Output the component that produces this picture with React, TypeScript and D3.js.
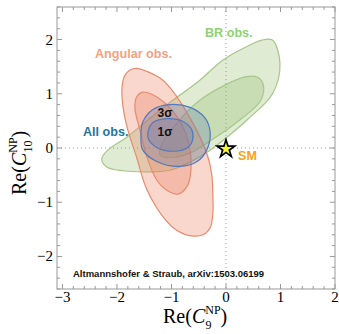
import React from 'react'
import * as d3 from 'd3'

// contours, in (C9, C10) units
const brOuter: [number, number][] = [
  [0.85, 1.99], [0.99, 1.57], [0.86, 1.01], [0.39, 0.52], [0.02, 0.2], [-0.29, -0.04],
  [-0.66, -0.26], [-1.03, -0.41], [-1.4, -0.44], [-1.89, -0.42], [-2.19, -0.35], [-2.28, -0.2],
  [-2.17, -0.04], [-1.82, 0.2], [-1.16, 0.74], [-0.48, 1.25], [-0.06, 1.62], [0.44, 1.9], [0.66, 1.99],
]
const brInner: [number, number][] = [
  [0.57, 1.31], [0.68, 1.18], [0.64, 0.88], [0.26, 0.52], [-0.26, 0.15], [-0.66, -0.09],
  [-1.03, -0.18], [-1.21, -0.13], [-1.18, 0.06], [-0.85, 0.52], [-0.48, 0.88], [-0.02, 1.16], [0.35, 1.31],
]
const angOuter: [number, number][] = [
  [-1.64, 1.47], [-1.21, 1.29], [-1.03, 1.12], [-0.57, 0.39], [-0.33, -0.17], [-0.26, -0.5],
  [-0.24, -0.9], [-0.24, -1.2], [-0.29, -1.47], [-0.42, -1.6], [-0.64, -1.62], [-0.9, -1.52],
  [-1.1, -1.34], [-1.45, -0.77], [-1.64, -0.17], [-1.8, 0.33], [-1.88, 0.7], [-1.91, 1.07],
  [-1.86, 1.33], [-1.76, 1.44],
]
const angInner: [number, number][] = [
  [-1.53, 1.03], [-1.36, 0.99], [-1.12, 0.83], [-0.88, 0.55], [-0.7, 0.15], [-0.64, -0.31],
  [-0.7, -0.68], [-0.88, -0.85], [-1.07, -0.79], [-1.27, -0.59], [-1.45, -0.17], [-1.58, 0.33],
  [-1.67, 0.74], [-1.64, 0.94],
]
const allOuter: [number, number][] = [
  [-1.56, 0.21], [-1.53, 0.47], [-1.34, 0.71], [-1.03, 0.8], [-0.66, 0.75], [-0.39, 0.56],
  [-0.29, 0.29], [-0.35, -0.03], [-0.53, -0.25], [-0.85, -0.34], [-1.27, -0.25], [-1.53, -0.03],
]
const allInner: [number, number][] = [
  [-1.43, 0.3], [-1.34, 0.47], [-1.08, 0.54], [-0.79, 0.49], [-0.63, 0.34], [-0.61, 0.16],
  [-0.7, 0.01], [-0.97, -0.06], [-1.27, 0.01], [-1.42, 0.16],
]

const xTicks = [-3, -2, -1, 0, 1, 2]
const yTicks = [-2, -1, 0, 1, 2]
const smPoint: [number, number] = [0, 0]

const W = 339
const H = 334
const serif = '"Liberation Serif", "DejaVu Serif", serif'
const sans = '"Liberation Sans", Arial, sans-serif'

const App = () => {
  const x = d3.scaleLinear().domain([-3.1, 2.0]).range([57, 335])
  const y = d3.scaleLinear().domain([-2.6, 2.6]).range([289, 7])

  const contour = d3.line<[number, number]>()
    .x(d => x(d[0]))
    .y(d => y(d[1]))
    .curve(d3.curveCatmullRomClosed.alpha(0.5))

  const minorX = d3.range(-3, 2.01, 0.2).map(v => +v.toFixed(1))
  const minorY = d3.range(-2.6, 2.61, 0.2).map(v => +v.toFixed(1))
  const isMajor = (v: number) => Math.abs(v - Math.round(v)) < 1e-6

  const star = d3.symbol(d3.symbolStar)
  const sx = x(smPoint[0])
  const sy = y(smPoint[1])

  const regions = [
    { d: brOuter, fill: '#96be6e', stroke: '#a6c788', op: 0.3 },
    { d: brInner, fill: '#96be6e', stroke: '#a6c788', op: 0.3 },
    { d: angOuter, fill: '#eb7a5a', stroke: '#e98a6e', op: 0.3 },
    { d: angInner, fill: '#eb7a5a', stroke: '#e98a6e', op: 0.3 },
    { d: allOuter, fill: '#5070bb', stroke: '#5279bd', op: 0.26 },
    { d: allInner, fill: '#5070bb', stroke: '#5279bd', op: 0.26 },
  ]

  const [x0, x1] = x.range()
  const [y0, y1] = y.range()

  return (
    <svg width={W} height={H} style={{ position: 'absolute', left: 0, top: 0, background: '#fff' }}>
      {/* dotted zero lines */}
      <line x1={x(0)} x2={x(0)} y1={y1} y2={y0} stroke="#999" strokeDasharray="1,3" />
      <line x1={x0} x2={x1} y1={y(0)} y2={y(0)} stroke="#999" strokeDasharray="1,3" />

      {regions.map((r, i) => (
        <path key={i} d={contour(r.d) || ''} fill={r.fill} fillOpacity={r.op}
          stroke={r.stroke} strokeWidth={1.2} />
      ))}

      {/* frame and ticks */}
      <rect x={x0} y={y1} width={x1 - x0} height={y0 - y1} fill="none" stroke="#999" />
      {minorX.map(v => {
        const len = isMajor(v) ? 5 : 3
        return (
          <g key={'x' + v} stroke="#999">
            <line x1={x(v)} x2={x(v)} y1={y0} y2={y0 - len} />
            <line x1={x(v)} x2={x(v)} y1={y1} y2={y1 + len} />
          </g>
        )
      })}
      {minorY.map(v => {
        const len = isMajor(v) ? 5 : 3
        return (
          <g key={'y' + v} stroke="#999">
            <line x1={x0} x2={x0 + len} y1={y(v)} y2={y(v)} />
            <line x1={x1} x2={x1 - len} y1={y(v)} y2={y(v)} />
          </g>
        )
      })}
      {xTicks.map(v => (
        <text key={'xl' + v} x={x(v)} y={302} textAnchor="middle" fontFamily={serif} fontSize={15}>
          {v < 0 ? '\u2212' + Math.abs(v) : v}
        </text>
      ))}
      {yTicks.map(v => (
        <text key={'yl' + v} x={53} y={y(v) + 5} textAnchor="end" fontFamily={serif} fontSize={15}>
          {v < 0 ? '\u2212' + Math.abs(v) : v}
        </text>
      ))}

      {/* axis titles */}
      <text x={163} y={323} fontFamily={serif} fontSize={20}>
        Re(<tspan fontStyle="italic">C</tspan>
        <tspan fontSize={12} dy={-9}>NP</tspan>
        <tspan fontSize={12} dx={-15} dy={15}>9</tspan>
        <tspan dx={9} dy={-6}>)</tspan>
      </text>
      <text transform="translate(26,195) rotate(-90)" fontFamily={serif} fontSize={20}>
        Re(<tspan fontStyle="italic">C</tspan>
        <tspan fontSize={12} dy={-9}>NP</tspan>
        <tspan fontSize={12} dx={-15} dy={15}>10</tspan>
        <tspan dx={3} dy={-6}>)</tspan>
      </text>

      {/* labels */}
      <g fontFamily={sans} fontWeight="bold" fontSize={12.6}>
        <text x={95} y={58} fill="#f4a283">Angular obs.</text>
        <text x={205} y={37} fill="#8fd26f">BR obs.</text>
        <text x={83} y={136} fill="#22779f">All obs.</text>
        <text x={165} y={117} textAnchor="middle" fontSize={12} fill="#111">3σ</text>
        <text x={165} y={136} textAnchor="middle" fontSize={12} fill="#111">1σ</text>
        <text x={238} y={160} fill="#f6a515">SM</text>
      </g>
      <text x={73} y={277} fontFamily={sans} fontWeight="bold" fontSize={9.5} fill="#111">
        Altmannshofer &amp; Straub, arXiv:1503.06199
      </text>

      {/* SM point */}
      <path d={star.size(160)() || ''} transform={`translate(${sx},${sy + 1})`} fill="#000" />
      <path d={star.size(46)() || ''} transform={`translate(${sx},${sy + 1})`} fill="#f4f23a" />
    </svg>
  )
}

export default App
